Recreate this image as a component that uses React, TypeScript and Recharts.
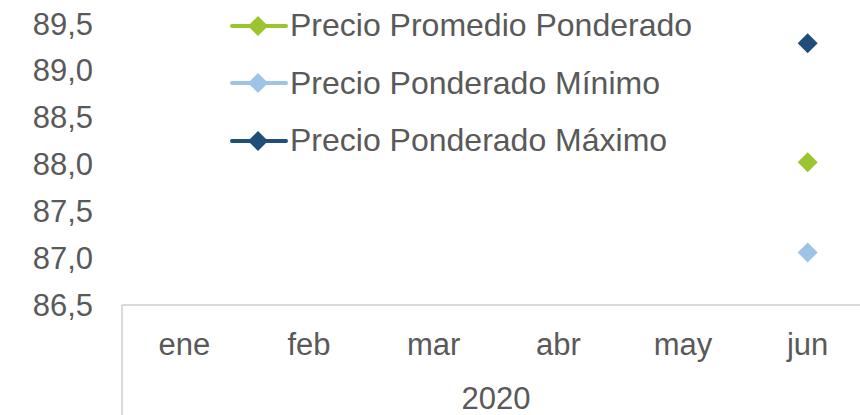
import { Legend, Line, LineChart, XAxis, YAxis } from 'recharts'

const months = ['ene', 'feb', 'mar', 'abr', 'may', 'jun']
const year = '2020'
const promedio = [null, null, null, null, null, 88.02]
const minimo = [null, null, null, null, null, 87.06]
const maximo = [null, null, null, null, null, 89.29]
const yTicks = [86.5, 87, 87.5, 88, 88.5, 89, 89.5]
const seriesNames = ['Precio Promedio Ponderado', 'Precio Ponderado Mínimo', 'Precio Ponderado Máximo']

const GREEN = '#9AC430'
const LIGHT = '#9DC3E6'
const DARK = '#1F4E79'
const TEXT = '#595959'
const AXIS = '#D9D9D9'
const FONT = '"Liberation Sans", Arial, sans-serif'

const data = months.map((month, i) => ({
  month,
  year,
  promedio: promedio[i],
  minimo: minimo[i],
  maximo: maximo[i],
}))

const fmt = (v: number) => v.toFixed(1).replace('.', ',')

function diamond(color: string) {
  return (props: any) => {
    const { cx, cy, index } = props
    if (cx == null || cy == null) return <g key={`d-${index}`} />
    const r = 10
    return (
      <path
        key={`d-${index}`}
        d={`M${cx},${cy - r}L${cx + r},${cy}L${cx},${cy + r}L${cx - r},${cy}Z`}
        fill={color}
      />
    )
  }
}

function MonthTick({ x, y, payload }: any) {
  return (
    <text x={x} y={y + 50} textAnchor="middle" fill={TEXT} fontSize={31} fontFamily={FONT}>
      {payload.value}
    </text>
  )
}

function YearTick({ x, y, payload, index }: any) {
  // the year axis repeats the same category once per row; draw it only once
  if (index > 0) return <g />
  const half = payload.offset ?? 0
  return (
    <g>
      <line x1={x - half} x2={x - half} y1={y - 61} y2={y + 49} stroke={AXIS} strokeWidth={2} />
      <line x1={x + half} x2={x + half} y1={y - 61} y2={y + 49} stroke={AXIS} strokeWidth={2} />
      <text x={x} y={y + 43} textAnchor="middle" fill={TEXT} fontSize={31} fontFamily={FONT}>
        {payload.value}
      </text>
    </g>
  )
}

function LegendBox({ payload }: any) {
  return (
    <div>
      {(payload || []).map((entry: any) => (
        <div key={entry.value} style={{ display: 'flex', alignItems: 'center', height: 57.5 }}>
          <svg width={60} height={24}>
            <line x1={2} x2={56} y1={12} y2={12} stroke={entry.color} strokeWidth={4} strokeLinecap="round" />
            <path d="M28,2L38,12L28,22L18,12Z" fill={entry.color} />
          </svg>
          <span style={{ color: TEXT, fontSize: 32, fontFamily: FONT, whiteSpace: 'nowrap' }}>{entry.value}</span>
        </div>
      ))}
    </div>
  )
}

export default function App() {
  return (
    <div style={{ position: 'absolute', left: 0, top: 0, width: 860, height: 415, overflow: 'hidden', background: '#fff' }}>
      <LineChart width={880} height={415} data={data} margin={{ top: 23.5, right: 10, bottom: 0, left: 0 }}>
        <XAxis
          dataKey="month"
          xAxisId="month"
          scale="band"
          height={61}
          axisLine={{ stroke: AXIS, strokeWidth: 2 }}
          tickLine={false}
          tickSize={0}
          tickMargin={0}
          tick={<MonthTick />}
          interval={0}
        />
        <XAxis
          dataKey="year"
          xAxisId="year"
          scale="band"
          height={49}
          allowDuplicatedCategory={false}
          axisLine={false}
          tickLine={false}
          tickSize={0}
          tickMargin={0}
          tick={<YearTick />}
        />
        <YAxis
          width={122}
          domain={[86.5, 89.5]}
          ticks={yTicks}
          axisLine={false}
          tickLine={false}
          tickSize={0}
          tickMargin={29}
          tickFormatter={fmt}
          tick={{ fill: TEXT, fontSize: 31, fontFamily: FONT }}
          interval={0}
        />
        <Legend
          layout="vertical"
          align="center"
          verticalAlign="middle"
          itemSorter={(item: any) => seriesNames.indexOf(item.value)}
          content={<LegendBox />}
          wrapperStyle={{ left: 230, top: -3, width: 560, height: 175 }}
        />
        <Line xAxisId="month" dataKey="promedio" name={seriesNames[0]} stroke={GREEN} strokeWidth={4} dot={diamond(GREEN)} activeDot={false} isAnimationActive={false} />
        <Line xAxisId="month" dataKey="minimo" name={seriesNames[1]} stroke={LIGHT} strokeWidth={4} dot={diamond(LIGHT)} activeDot={false} isAnimationActive={false} />
        <Line xAxisId="month" dataKey="maximo" name={seriesNames[2]} stroke={DARK} strokeWidth={4} dot={diamond(DARK)} activeDot={false} isAnimationActive={false} />
      </LineChart>
    </div>
  )
}
